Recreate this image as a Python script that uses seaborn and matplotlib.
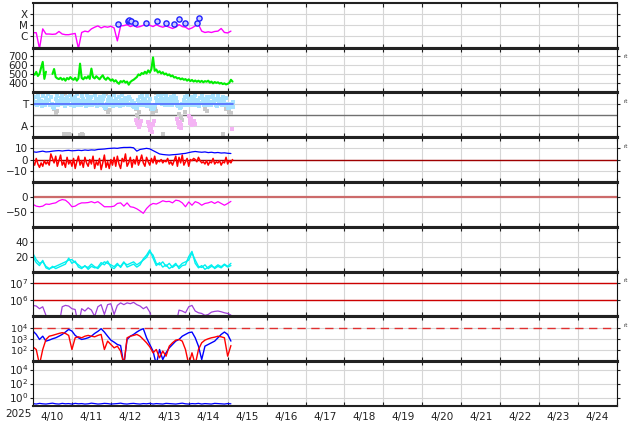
import numpy as np
import pandas as pd
import matplotlib
matplotlib.use('Agg')
import matplotlib.pyplot as plt
import matplotlib.dates as mdates
import matplotlib.ticker as mticker
import seaborn as sns

sns.set_style('white')
plt.rcParams['font.family'] = ['DejaVu Sans']

T0 = pd.Timestamp('2025-04-10')

# X-ray flux, 2-hourly, units of 1e-6 W/m2
xray_flux = [2.1, 2.1, 0.08, 4.6, 1.6, 1.6, 1.5, 1.6, 2.7, 1.6,
             1.4, 1.4, 1.6, 1.8, 0.08, 2.2, 2.9, 2.5, 4.6, 6.5,
             8.5, 5.6, 7.4, 6.5, 7.9, 5.6, 0.39, 8.5, 9.0, 11,
             7.4, 9.6, 6.5, 7.4, 9.6, 12.6, 9.6, 7.4, 11, 7.9,
             6.5, 8.5, 6.5, 5.0, 6.5, 11, 7.4, 6.5, 4.3, 5.6,
             8.5, 11, 2.9, 2.2, 2.5, 2.2, 2.7, 2.9, 5.0, 2.2,
             2.0, 2.9]
flare_hours = [52.3, 58.6, 59.4, 60.3, 62.7, 69.5, 76.2, 81.7, 87.2, 90.3, 93.4, 101.1, 102.6]
flare_flux = [12, 24, 28, 24, 15, 15, 24, 15, 12.5, 34, 15, 15, 45]

# solar wind speed, hourly
speed = [510, 495, 528, 482, 505, 575, 640, 450, 530, np.nan,
         np.nan, np.nan, 505, 560, 470, 455, 448, 462, 440, 455,
         430, 460, 445, 470, 450, 440, 462, 430, 455, 620,
         460, 445, 470, 455, 480, 450, 565, 470, 455, 480,
         462, 445, 470, 490, 455, 440, 465, 450, 430, 445,
         420, 435, 410, 395, 425, 415, 430, 408, 420, 385,
         415, 430, 440, 455, 470, 500, 490, 515, 505, 530,
         510, 545, 520, 560, 690, 540, 555, 520, 535, 510,
         525, 500, 510, 490, 500, 478, 488, 465, 470, 455,
         460, 445, 455, 440, 448, 430, 445, 425, 438, 420,
         432, 418, 430, 415, 428, 412, 425, 418, 430, 408,
         420, 400, 415, 405, 412, 398, 405, 392, 400, 388,
         395, 405, 440, 420]

# IMF phi angle points, hourly plus a half-hour offset set
phi_sw = [300, 325, 285, 340, 310, 290, 330, 275, 315, 345, 295, 320,
          260, 235, 305, 330, 290, 315, 340, 280, 310, 325, 295, 335,
          305, 285, 320, 345, 300, 275, 330, 310, 290, 335, 315, 300,
          325, 285, 340, 305, 295, 320, 280, 310, 330, 240, 300, 325,
          310, 290, 335, 305, 280, 320, 300, 340, 295, 315, 285, 325,
          305, 290, 275, 250, 235, 300, 320, 340, 310, 295, 330, 285,
          305, 245, 230, 260, 315, 335, 350, 320, 345, 305, 330, 310,
          295, 325, 305, 340, 315, 285, 255, 240, 265, 300, 320, 335,
          310, 290, 325, 305, 340, 300, 280, 315, 330, 295, 310, 325,
          300, 285, 320, 340, 305, 295, 330, 310, 290, 325, 300, 315,
          250, 235, 265, 280]
phi_sw_half = [265, 280, 255, 290, 270, 250, 285, 260, 275, 295, 258, 270,
               240, 262, 285, 255, 275, 268, 290, 252, 280, 265, 295, 258,
               272, 250, 288, 262, 278, 255, 292, 268, 250, 280, 262, 275,
               255, 285, 268, 250, 290, 260, 275, 252, 238, 268, 282, 255,
               270, 252, 286, 262, 275, 248, 282, 258, 270, 290, 255, 268,
               262, 250, 240, 232, 258, 280, 262, 290, 255, 272, 248, 280,
               242, 228, 238, 262, 290, 275, 300, 265, 285, 258, 278, 262,
               285, 255, 275, 292, 262, 250, 238, 245, 262, 280, 258, 285,
               262, 290, 255, 275, 262, 285, 250, 272, 290, 258, 275, 262,
               280, 255, 272, 290, 262, 250, 285, 268, 255, 280, 262, 270,
               238, 248, 255, 245]
gray_hours = [13, 14, 14.5, 19, 20, 21, 22, 23, 29, 30, 31, 45, 46, 47, 63.5, 64, 65, 65.5,
              73, 74, 75, 76, 80, 90, 91, 92, 94, 106, 107, 117, 119, 121, 122, 20, 23, 45, 76]
gray_phi = [228, 190, 210, 24, 26, 22, 25, 20, 19, 22, 18, 228, 205, 215, 230, 180, 150, 205,
            225, 195, 230, 210, 24, 185, 160, 140, 200, 228, 210, 22, 225, 200, 190, 348, 342, 350, 352]
pink_hours = [63.5, 64, 64.5, 65, 65.5, 66, 66.5, 71, 71.5, 72, 72.5, 73, 73.5, 74, 74.5,
              89, 89.5, 90, 90.5, 91, 91.5, 96, 96.5, 97, 97.5, 98, 99, 100, 122.5]
pink_phi = [140, 110, 95, 125, 80, 100, 130, 120, 90, 60, 105, 75, 45, 95, 130,
            145, 110, 85, 125, 70, 100, 170, 140, 115, 150, 95, 130, 105, 65]
sector_hours = [0, 123]
sector_phi = [270, 270]

# magnetic field, Bt 2-hourly, Bz hourly
bt = [7, 6.5, 7, 7.5, 6.8, 7, 7.5, 7.8, 8, 7.6,
      8, 8.2, 7.8, 8, 8.3, 8, 8.5, 8.2, 8.6, 8.4,
      9, 9.2, 9.4, 9.8, 10, 10.2, 10, 10.5, 10.8, 10.8,
      10.9, 10.5, 7.5, 9, 9.5, 10, 9.5, 8, 6.5, 5,
      4.5, 4.2, 4, 4.3, 4.5, 4.8, 5.2, 5.5, 6.2, 6.8,
      7.2, 6.8, 6.5, 6.8, 6.2, 6.5, 6, 6.3, 5.8, 6,
      5.6, 5.4]
bz = [-2, -5, 1, -4, -7, -3, -6, -1, -4, -2, -5,
      5, 1,
      -3, 3, -6, -1, 4, -5, -2, -7, 2, -4, -1, -6,
      1, -8, -2, 3, -5, -1, -7, 2, -3, -6, 0, -4, 3, -8, -2,
      -5, 1, -9, -3, 4, -7, -2, -8, 0, -5, 2, -6,
      3, -4, -8, 1, -2, 5, -6, -3, 2, -7, 0, -4, 3, -5,
      -1, 4, -3, -6, 2, -2, -5, 1, -3, 3,
      -4, -1, -2, 0, -3, -1, -2, 1, -4, -2, -5, -1, 3,
      -6, 2, -3, 4, -5, -2, 1, -6,
      0, -1, 1, 0, -2, 2, -1, -3,
      -2, -4, -1, -5, -2, -3, 1, -4, -2, -3, -1, -5, -2, -3, 2, -4, -1, -3, 0]

# Dst, 2-hourly
dst = [-25, -31, -33, -31, -24, -25, -22, -20, -13, -9,
       -11, -20, -33, -31, -24, -20, -20, -19, -16, -20,
       -16, -24, -33, -33, -33, -31, -22, -20, -31, -20,
       -33, -35, -40, -47, -55, -39, -28, -22, -24, -19,
       -13, -16, -15, -20, -11, -13, -20, -33, -17, -28,
       -16, -20, -28, -22, -20, -16, -22, -16, -22, -28,
       -22, -15]

# density, two traces, 2-hourly
dens_a = [24, 16, 11, 13, 7, 4, 5.5, 7, 9, 11,
          13, 15.4, 16, 12, 9, 5.5, 7, 5.5, 10, 6.5,
          4, 9, 13, 11, 9, 6.5, 11, 5.5, 12, 9,
          11, 13, 9, 12, 15.4, 19, 26.5, 22, 11, 9,
          13, 7, 11, 5.5, 9, 6.5, 11, 13, 15.4, 25,
          15.4, 7, 5.5, 9, 4, 7, 5.5, 9, 6.5, 10,
          7, 11]
dens_b = [20, 12, 8, 15, 5, 3, 7, 4, 6, 8,
          10, 18, 11, 14, 6, 4, 8, 3, 7, 5,
          6, 12, 9, 14, 6, 4, 9, 7, 13, 6,
          8, 10, 6, 9, 17, 22, 29, 18, 8, 12,
          6, 9, 4, 7, 11, 4, 8, 9, 20, 27,
          11, 5, 8, 3, 6, 9, 4, 7, 5, 9,
          6, 8]

# electron flux, 2-hourly
electrons = [4.6e5, 4.2e5, 2.9e5, 3.8e5, 1.15e5, 3e4, np.nan, np.nan, 3e4, 3.8e5,
             4.6e5, 4.2e5, 2.9e5, 2.6e5, 3e4, 2.9e5, 2.1e5, 3.3e5, 2.4e5, 1.0e5,
             3.8e5, 5.1e5, 1.3e5, 5.1e5, 5.8e5, 1.3e5, 4.6e5, 6.5e5, 5.1e5, 6.5e5,
             5.8e5, 7.0e5, 5.1e5, 4.2e5, 2.9e5, 3.8e5, 1.8e5, 3e4, np.nan, np.nan,
             np.nan, np.nan, np.nan, np.nan, 3e4, 2.4e5, 2.1e5, 1.65e5, 3.8e5, 4.6e5,
             2.1e5, 1.65e5, 1.5e5, 1.15e5, 1.3e5, 1.8e5, 2.0e5, 2.1e5, 1.9e5, 1.65e5,
             1.5e5, 1.2e5]

# particle flux, two channels, 2-hourly
flux_blue = [4900, 2500, 870, 1700, 620, 760, 1000, 1230, 1700, 2450,
             4000, 6900, 4900, 2000, 1230, 870, 1000, 1230, 1700, 3000,
             4600, 7900, 4000, 1700, 760, 500, 310, 250, 5, 870,
             1700, 2450, 4000, 6000, 7900, 1230, 310, 80, 5, 110,
             14, 56, 155, 310, 620, 870, 1700, 2450, 3500, 4000,
             1230, 220, 14, 220, 310, 440, 620, 1230, 2450, 4000,
             2450, 620]
flux_red = [190, 110, 5, 110, 870, 1700, 2000, 2450, 3000, 3500,
            3000, 2000, 110, 1230, 1500, 1230, 1700, 2000, 1700, 1500,
            2000, 2450, 110, 620, 310, 155, 220, 80, 5, 1230,
            1700, 2000, 2450, 1700, 870, 440, 190, 56, 110, 20,
            80, 28, 220, 440, 760, 870, 620, 110, 5, 56,
            5, 110, 440, 760, 1000, 1230, 1400, 1700, 1500, 1230,
            28, 250]

# proton flux, 2-hourly
protons = [0.14, 0.12, 0.15, 0.13, 0.12, 0.14, 0.16, 0.13, 0.12, 0.15,
           0.13, 0.14, 0.12, 0.15, 0.13, 0.14, 0.12, 0.13, 0.16, 0.14,
           0.12, 0.13, 0.15, 0.14, 0.12, 0.13, 0.14, 0.16, 0.13, 0.12,
           0.14, 0.15, 0.13, 0.12, 0.14, 0.13, 0.15, 0.12, 0.14, 0.13,
           0.12, 0.15, 0.14, 0.13, 0.12, 0.14, 0.16, 0.13, 0.12, 0.14,
           0.13, 0.15, 0.12, 0.14, 0.13, 0.12, 0.15, 0.14, 0.13, 0.12,
           0.14, 0.13]


def stamp(hours):
    return T0 + pd.to_timedelta(np.asarray(hours, dtype=float), unit='h')


def every(values, step, offset=0.0):
    return np.arange(len(values)) * step + offset


def draw_line(ax, hours, values, color, lw=0.9, **kw):
    d = pd.DataFrame({'t': stamp(hours), 'v': np.asarray(values, dtype=float)})
    d['seg'] = d['v'].isna().cumsum()
    d = d.dropna()
    sns.lineplot(data=d, x='t', y='v', units='seg', estimator=None, sort=False,
                 color=color, lw=lw, ax=ax, legend=False, **kw)


def draw_points(ax, hours, values, color, s=6):
    sns.scatterplot(x=stamp(hours), y=values, color=color, s=s, marker='s',
                    linewidth=0, ax=ax, legend=False)


fig, axes = plt.subplots(9, 1, figsize=(6.34, 4.24), dpi=100)
fig.subplots_adjust(left=33 / 634, right=617 / 634, top=1 - 2.7 / 424,
                    bottom=1 - 406 / 424, hspace=0)

# 1: x-ray
ax = axes[0]
ax.set_yscale('log')
draw_line(ax, every(xray_flux, 2), np.array(xray_flux) * 1e-6, '#ff00ff', lw=1.0)
sns.scatterplot(x=stamp(flare_hours), y=np.array(flare_flux) * 1e-6, marker='o', s=14,
                color='#c8ccff', edgecolor='#2020ff', linewidth=1.0, ax=ax, legend=False, zorder=5)
ax.set_ylim(1e-7, 1e-3)
ax.set_yticks([1e-6, 1e-5, 1e-4])
ax.set_yticklabels(['C', 'M', 'X'], fontsize=8.5)

# 2: speed
ax = axes[1]
draw_line(ax, every(speed, 1), speed, '#00ee00', lw=1.5)
ax.set_ylim(300, 800)
ax.set_yticks([400, 500, 600, 700])

# 3: phi
ax = axes[2]
ax.axhline(180, color='#707070', lw=1.0, zorder=1)
draw_points(ax, gray_hours, gray_phi, '#c8c8c8')
draw_points(ax, pink_hours, pink_phi, '#f4b4f4')
draw_points(ax, every(phi_sw, 1), phi_sw, '#a8e2ff', s=12)
draw_points(ax, every(phi_sw_half, 1, 0.5), phi_sw_half, '#a8e2ff', s=12)
draw_line(ax, sector_hours, sector_phi, '#5068ff', lw=1.2)
ax.set_ylim(0, 360)
ax.set_yticks([90, 270])
ax.set_yticklabels(['A', 'T'], fontsize=8.5)

# 4: Bt / Bz
ax = axes[3]
ax.axhline(0, color='#a00000', lw=1.0, zorder=1)
draw_line(ax, every(bz, 1), bz, '#ff0000', lw=1.1)
draw_line(ax, every(bt, 2), bt, '#0000ff', lw=0.9)
ax.set_ylim(-20, 20)
ax.set_yticks([-10, 0, 10])

# 5: Dst
ax = axes[4]
ax.axhline(0, color='#cc6a6a', lw=1.6, zorder=1)
draw_line(ax, every(dst, 2), dst, '#ff00ff', lw=0.9)
ax.set_ylim(-100, 50)
ax.set_yticks([-50, 0])

# 6: density
ax = axes[5]
draw_line(ax, every(dens_a, 2), dens_a, '#00f0f0', lw=1.0)
draw_line(ax, every(dens_b, 2), dens_b, '#00f0f0', lw=1.0)
ax.set_ylim(0, 60)
ax.set_yticks([20, 40])

# 7: electrons
ax = axes[6]
ax.set_yscale('log')
ax.axhline(1e7, color='#cc0000', lw=1.0, zorder=1)
ax.axhline(1e6, color='#cc0000', lw=1.0, zorder=1)
draw_line(ax, every(electrons, 2), electrons, '#a040d8', lw=0.9)
ax.set_ylim(1e5, 10 ** 7.7)
ax.set_yticks([1e6, 1e7])

# 8: particle flux
ax = axes[7]
ax.set_yscale('log')
ax.axhline(1e4, color='#e03030', lw=1.0, ls=(0, (6, 4)), zorder=1)
draw_line(ax, every(flux_blue, 2), flux_blue, '#0000ff', lw=1.0)
draw_line(ax, every(flux_red, 2), flux_red, '#ff0000', lw=1.0)
ax.set_ylim(10, 1e5)
ax.set_yticks([1e2, 1e3, 1e4])

# 9: protons
ax = axes[8]
ax.set_yscale('log')
draw_line(ax, every(protons, 2), protons, '#0000ff', lw=0.9)
ax.set_ylim(10 ** -1.2, 10 ** 5.2)
ax.set_yticks([1e0, 1e2, 1e4])

for i, ax in enumerate(axes):
    ax.set_xlim(T0, T0 + pd.Timedelta(days=15))
    ax.set_xlabel('')
    ax.set_ylabel('')
    ax.xaxis.set_major_locator(mdates.DayLocator())
    ax.xaxis.set_minor_locator(mdates.HourLocator(byhour=12))
    ax.yaxis.set_minor_locator(mticker.NullLocator())
    ax.grid(True, which='major', color='#d6d6d6', lw=0.8)
    ax.set_axisbelow(True)
    ax.tick_params(axis='x', which='major', direction='in', length=3, top=True,
                   bottom=True, labelbottom=False, color='#222222')
    ax.tick_params(axis='x', which='minor', length=0, labelbottom=False)
    ax.tick_params(axis='y', which='major', direction='out', length=2, left=True,
                   right=True, labelsize=7.5, pad=1.5, colors='#222222')
    for side in ['top', 'bottom']:
        ax.spines[side].set_linewidth(2.2)
        ax.spines[side].set_color('#222222')
    for side in ['left', 'right']:
        ax.spines[side].set_linewidth(0.8)
        ax.spines[side].set_color('#111111')
    if i in (1, 2, 3, 6, 7):
        ax.text(1.015, 0.79, 'rt', transform=ax.transAxes, fontsize=4,
                ha='center', va='center', color='#333333')

# the three decades of panel 8 sit close together
axes[7].tick_params(axis='y', which='major', labelsize=6.8)

axes[0].spines['top'].set_linewidth(1.5)
axes[-1].spines['bottom'].set_linewidth(1.5)

bottom = axes[-1]
bottom.xaxis.set_minor_formatter(mticker.FuncFormatter(
    lambda x, pos: f"{mdates.num2date(x).month}/{mdates.num2date(x).day}"))
bottom.tick_params(axis='x', which='minor', labelbottom=True, labelsize=7.5, pad=4,
                   labelcolor='#222222')
fig.text(18 / 634, 1 - 409 / 424, '2025', ha='center', va='top', fontsize=7.5, color='#222222')

fig.savefig('out.png', dpi=100)
